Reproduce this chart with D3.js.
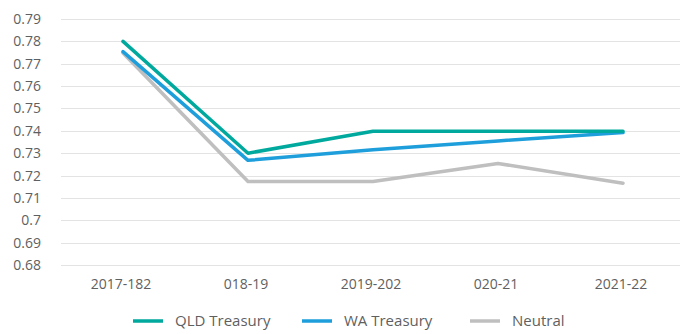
<!DOCTYPE html>
<html>
<head>
<meta charset="utf-8">
<script src="https://cdn.jsdelivr.net/npm/d3@7"></script>
<style>
  html, body { margin: 0; padding: 0; background: #fff; }
  svg { display: block; font-family: "Open Sans", "Noto Sans", sans-serif; }
</style>
</head>
<body>
<svg id="chart" width="680" height="334"></svg>
<script>
// Categories (financial years) and tick values
const categories = ["2017-182", "018-19", "2019-202", "020-21", "2021-22"];
const yTicks = [0.68, 0.69, 0.7, 0.71, 0.72, 0.73, 0.74, 0.75, 0.76, 0.77, 0.78, 0.79];

// Series values
const qldTreasury = [0.780, 0.730, 0.7398, 0.7398, 0.7398];
const waTreasury  = [0.7754, 0.7268, 0.7315, 0.7355, 0.7392];
const neutral     = [0.7748, 0.7173, 0.7173, 0.7254, 0.7166];

const seriesNames = ["QLD Treasury", "WA Treasury", "Neutral"];
const seriesColors = ["#00A99D", "#1E9FDB", "#BFBFBF"];
const seriesData = [qldTreasury, waTreasury, neutral];

const svg = d3.select("#chart");
const W = 680, H = 334;
const plotLeft = 60.5, plotRight = 685.5, plotTop = 19, plotBottom = 265;

const x = d3.scaleBand().domain(categories).range([plotLeft, plotRight]);
const y = d3.scaleLinear().domain([0.68, 0.79]).range([plotBottom, plotTop]);

// Horizontal gridlines
svg.append("g")
  .selectAll("line")
  .data(yTicks)
  .join("line")
  .attr("x1", 61).attr("x2", W)
  .attr("y1", d => Math.round(y(d)) + 0.5)
  .attr("y2", d => Math.round(y(d)) + 0.5)
  .attr("stroke", "#E3E3E3")
  .attr("stroke-width", 1.2);

// Y axis labels
const yAxis = d3.axisLeft(y).tickValues(yTicks).tickSize(0).tickPadding(0)
  .tickFormat(d => d3.format("")(+d.toFixed(2)));
svg.append("g")
  .attr("transform", "translate(41,0)")
  .call(yAxis)
  .call(g => g.select(".domain").remove())
  .call(g => g.selectAll("text")
    .attr("fill", "#5f5f5f")
    .attr("font-size", 14)
    .attr("font-family", "Open Sans, sans-serif"));

// X axis labels
const xAxis = d3.axisBottom(x).tickSize(0).tickPadding(0);
svg.append("g")
  .attr("transform", "translate(-2,279)")
  .call(xAxis)
  .call(g => g.select(".domain").remove())
  .call(g => g.selectAll("text")
    .attr("fill", "#5f5f5f")
    .attr("font-size", 14)
    .attr("font-family", "Open Sans, sans-serif"));

// Lines
const line = d3.line()
  .x((d, i) => x(categories[i]) + x.bandwidth() / 2)
  .y(d => y(d));

const order = [2, 1, 0];
order.forEach(k => {
  svg.append("path")
    .datum(seriesData[k])
    .attr("d", line)
    .attr("fill", "none")
    .attr("stroke", seriesColors[k])
    .attr("stroke-width", 3.5)
    .attr("stroke-linejoin", "round")
    .attr("stroke-linecap", "round");
});

// Legend
const legendItems = [
  { name: seriesNames[0], color: seriesColors[0], x: 133 },
  { name: seriesNames[1], color: seriesColors[1], x: 302 },
  { name: seriesNames[2], color: seriesColors[2], x: 470 }
];
const lg = svg.append("g").attr("transform", "translate(0,321)");
legendItems.forEach(it => {
  lg.append("line")
    .attr("x1", it.x).attr("x2", it.x + 30)
    .attr("y1", 0).attr("y2", 0)
    .attr("stroke", it.color)
    .attr("stroke-width", 3.5);
  lg.append("text")
    .attr("x", it.x + 42).attr("y", 0)
    .attr("dy", "0.35em")
    .attr("fill", "#5f5f5f")
    .attr("font-size", 15)
    .text(it.name);
});
</script>
</body>
</html>
